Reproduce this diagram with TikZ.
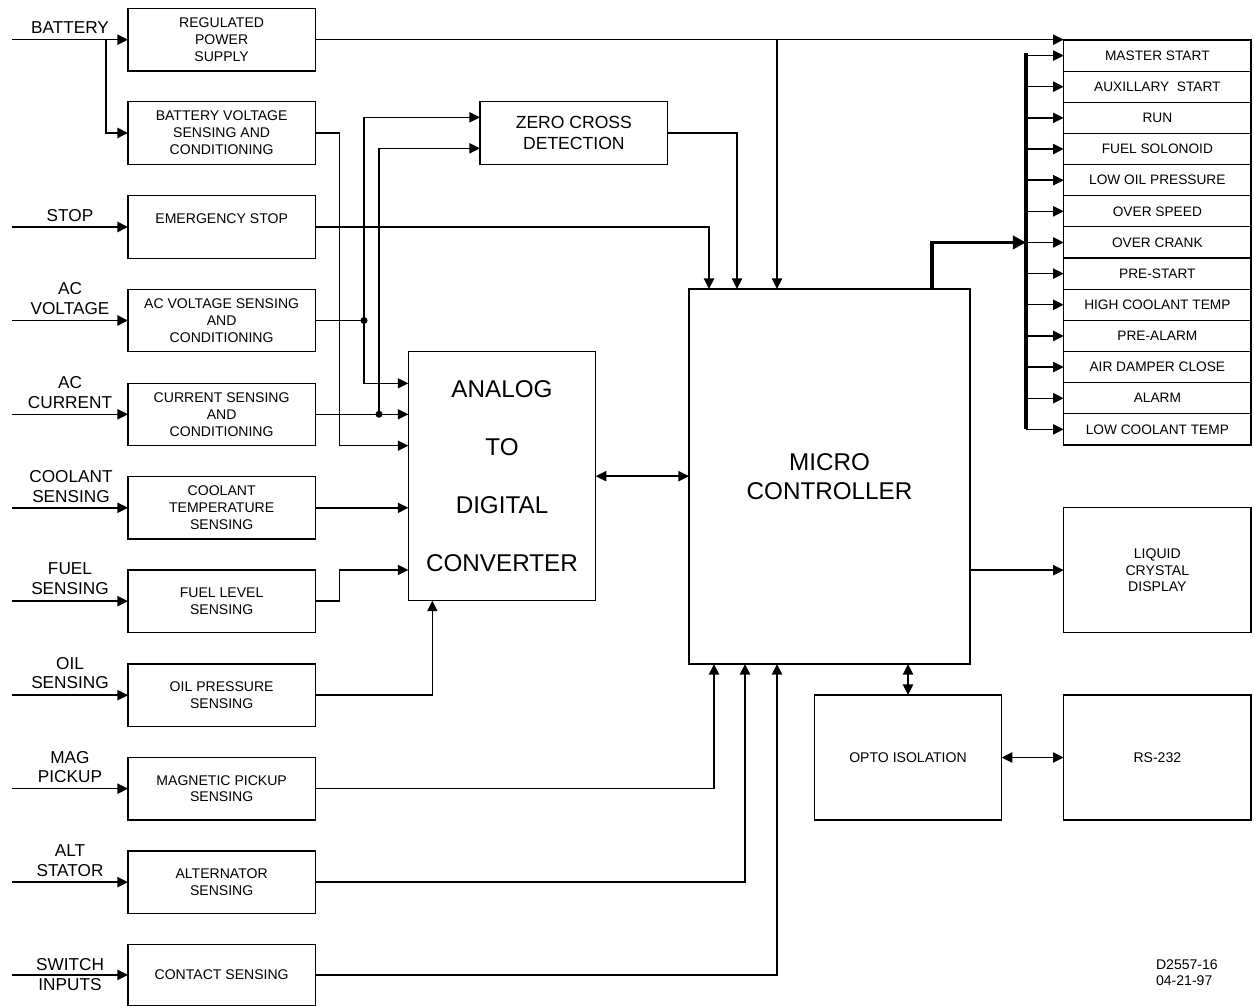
\documentclass[tikz,border=0pt]{standalone}
\usepackage{fontspec}
\setmainfont{Liberation Sans}
\usetikzlibrary{arrows.meta,calc}
\newcommand{\mkbox}[7][]{%
  \pgfmathsetmacro\bxcx{(#3+#5)/2}%
  \pgfmathsetmacro\bxcy{(#4+#6)/2}%
  \pgfmathsetmacro\bxw{(#5-#3)*0.02}%
  \pgfmathsetmacro\bxh{(#6-#4)*0.02}%
  \node[box,minimum width=\bxw cm,minimum height=\bxh cm,#1] (#2) at (\bxcx,\bxcy) {#7};}
\tikzset{
  box/.style={draw,line width=0.65pt,inner sep=0pt,outer sep=0pt,align=center,font=\fontsize{8}{9.6}\selectfont},
  ln/.style={line width=0.8pt},
  arr/.style={ln,-{Triangle[length=6pt,width=5.8pt]}},
  barr/.style={ln,{Triangle[length=6pt,width=5.8pt]}-{Triangle[length=6pt,width=5.8pt]}},
  tarr/.style={line width=2pt,-{Triangle[length=7.5pt,width=7.5pt]}},
  busline/.style={line width=2.3pt},
  lbl/.style={font=\fontsize{9.8}{11.3}\selectfont,align=center,inner sep=0pt},
  dot/.style={circle,fill,inner sep=0pt,minimum size=0.14cm},
  rowtxt/.style={font=\fontsize{7.8}{9}\selectfont}
}
\begin{document}
\begin{tikzpicture}[x=0.02cm,y=-0.02cm]
\useasboundingbox[fill=white] (0,0) rectangle (1254,1006);

% left column boxes
\mkbox{ps}{128}{8.3}{315.3}{71}{REGULATED\\POWER\\SUPPLY}
\mkbox{bv}{128}{101.7}{315.3}{164.3}{BATTERY VOLTAGE\\SENSING AND\\CONDITIONING}
\mkbox{es}{128}{195.7}{315.3}{258.3}{EMERGENCY STOP\\\mbox{}}
\mkbox{acv}{128}{289.3}{315.3}{351.7}{AC VOLTAGE SENSING\\AND\\CONDITIONING}
\mkbox{cs}{128}{383.3}{315.3}{445.3}{CURRENT SENSING\\AND\\CONDITIONING}
\mkbox{ct}{128}{476.7}{315.3}{539}{COOLANT\\TEMPERATURE\\SENSING}
\mkbox{fl}{128}{570}{315.3}{632.3}{FUEL LEVEL\\SENSING}
\mkbox{op}{128}{664}{315.3}{726.3}{OIL PRESSURE\\SENSING}
\mkbox{mp}{128}{757.3}{315.3}{820}{MAGNETIC PICKUP\\SENSING}
\mkbox{al}{128}{851}{315.3}{913.3}{ALTERNATOR\\SENSING}
\mkbox{cn}{128}{944.3}{315.3}{1005.5}{CONTACT SENSING}

% central boxes
\mkbox[font=\fontsize{10}{11.9}\selectfont]{zc}{480}{101.7}{667.7}{164.3}{ZERO CROSS\\DETECTION}
\mkbox[font=\fontsize{13.8}{32.9}\selectfont]{adc}{408.3}{351.7}{595.7}{600.7}{ANALOG\\TO\\DIGITAL\\CONVERTER}
\mkbox[font=\fontsize{13.8}{16.4}\selectfont]{mc}{689}{289}{970}{664}{MICRO\\CONTROLLER}

% right boxes
\mkbox[font=\fontsize{8}{9.4}\selectfont]{lcd}{1063.7}{507.7}{1251}{632.7}{LIQUID\\CRYSTAL\\DISPLAY}
\mkbox{opto}{814.3}{695}{1001.7}{820}{OPTO ISOLATION}
\mkbox{rs}{1063.7}{695}{1251}{820}{RS-232}

% output list
\foreach \i/\t in {1/MASTER START,2/AUXILLARY\ \ START,3/RUN,4/FUEL SOLONOID,5/LOW OIL PRESSURE,6/OVER SPEED,7/OVER CRANK,8/PRE-START,9/HIGH COOLANT TEMP,10/PRE-ALARM,11/AIR DAMPER CLOSE,12/ALARM,13/LOW COOLANT TEMP}{
  \pgfmathsetmacro\ry{40+(\i-1)*31.15}
  \mkbox[rowtxt]{o\i}{1063.7}{\ry}{1251}{\ry+31.15}{\t}
}

% input labels
\node[lbl] (lbat) at (70,28) {BATTERY};
\node[lbl] (lstop) at (70,216) {STOP};
\node[lbl] (lacv) at (70,299) {AC\\VOLTAGE};
\node[lbl] (lacc) at (70,392.5) {AC\\CURRENT};
\node[lbl] (lcool) at (71,487) {COOLANT\\SENSING};
\node[lbl] (lfuel) at (70,579) {FUEL\\SENSING};
\node[lbl] (loil) at (70,673) {OIL\\SENSING};
\node[lbl] (lmag) at (70,767) {MAG\\PICKUP};
\node[lbl] (lalt) at (70,860.5) {ALT\\STATOR};
\node[lbl] (lsw) at (70,974.5) {SWITCH\\INPUTS};

% drawing number
\node[font=\fontsize{8}{9}\selectfont,align=left,inner sep=0pt,anchor=west] (dnum) at (1155.7,973) {D2557-16\\04-21-97};

% inputs from the left
\foreach \n in {ps,es,acv,cs,ct,fl,op,mp,al,cn}{
  \draw[arr] ($(\n.west)+(-116,0)$) -- (\n.west);
}
\coordinate (bj) at ($(ps.west)+(-22,0)$);
\draw[arr] (bj) |- (bv.west);

% helper coordinates
\coordinate (adI1) at ($(adc.north west)+(0,31.6)$);
\coordinate (adI3) at ($(adc.north west)+(0,94)$);
\coordinate (adI5) at ($(adc.north west)+(0,218.3)$);
\coordinate (zcI1) at ($(zc.north west)+(0,15.6)$);
\coordinate (zcI2) at ($(zc.north west)+(0,46.6)$);
\coordinate (mcT3) at ($(mc.north west)+(88,0)$);

% power supply
\draw[arr] (ps.east) -- (ps.east -| o1.west);
\draw[arr] (ps.east -| mcT3) -- (mcT3);

% battery voltage to ADC
\draw[arr] (bv.east) -| ($(adI3)+(-69,0)$) -- (adI3);

% emergency stop to MC
\draw[arr] (es.east) -| ($(mc.north west)+(20,0)$);

% zero cross to MC
\draw[arr] (zc.east) -| ($(mc.north west)+(48,0)$);

% AC voltage
\coordinate (jv) at ($(acv.east)+(48.7,0)$);
\draw[ln] (acv.east) -- (jv);
\draw[arr] (jv) |- (zcI1);
\draw[arr] (jv) |- (adI1);
\node[dot] (djv) at (jv) {};

% current
\coordinate (jc) at ($(cs.east)+(63.7,0)$);
\draw[arr] (cs.east) -- (cs.east -| adc.west);
\draw[arr] (jc) |- (zcI2);
\node[dot] (djc) at (jc) {};

% coolant, fuel, oil
\draw[arr] (ct.east) -- (ct.east -| adc.west);
\draw[arr] (fl.east) -| ($(adI5)+(-69,0)$) -- (adI5);
\draw[arr] (op.east) -| ($(adc.south west)+(24,0)$);

% ADC <-> MC
\draw[barr] (adc.east) -- (adc.east -| mc.west);

% bottom inputs to MC
\draw[arr] (mp.east) -| ($(mc.south west)+(25,0)$);
\draw[arr] (al.east) -| ($(mc.south west)+(56,0)$);
\draw[arr] (cn.east) -| ($(mc.south west)+(88,0)$);

% MC to LCD, opto, RS-232
\draw[arr] (lcd.west -| mc.east) -- (lcd.west);
\draw[barr] (opto.north |- mc.south) -- (opto.north);
\draw[barr] (opto.east) -- (rs.west);

% output bus
\coordinate (busT) at ($(o1.west)+(-37.7,-2.3)$);
\coordinate (busB) at (o13.west -| busT);
\draw[busline] (busT) -- (busB);
\foreach \i in {1,...,13}{
  \draw[arr] (o\i.west -| busT) -- (o\i.west);
}
\draw[tarr] ($(mc.north west)+(243,0)$) |- (o7.west -| busT);
\end{tikzpicture}
\end{document}
